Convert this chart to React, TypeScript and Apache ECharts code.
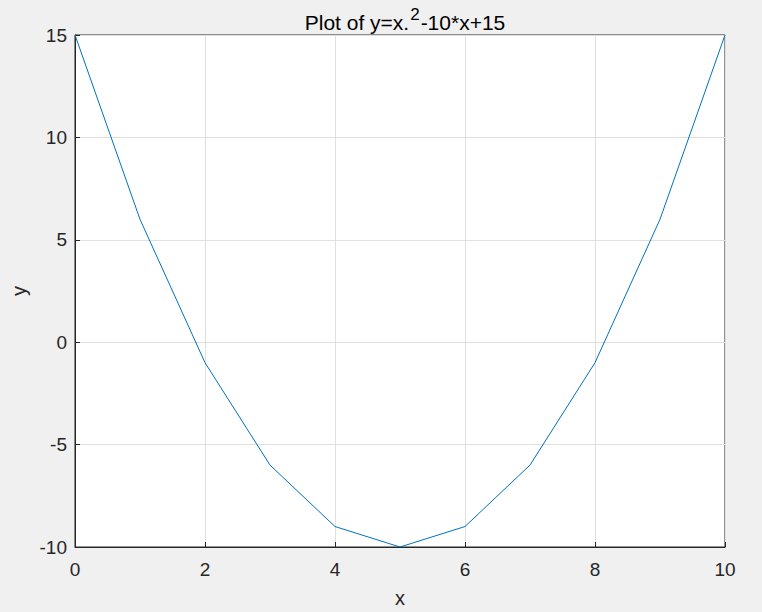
import React, { useEffect, useRef } from "react";
import * as echarts from "echarts";

const xValues = [0, 1, 2, 3, 4, 5, 6, 7, 8, 9, 10];
const yValues = [15, 6, -1, -6, -9, -10, -9, -6, -1, 6, 15];
const titleMain = "Plot of y=x.";
const titleSup = "2";
const titleRest = "-10*x+15";

export default function App() {
  const ref = useRef<HTMLDivElement>(null);
  useEffect(() => {
    document.body.style.margin = "0";
    const chart = echarts.init(ref.current!, null, { renderer: "svg" });
    const font = "Liberation Sans, Arial, Helvetica, sans-serif";
    const textColor = "#262626";
    chart.setOption({
      animation: false,
      backgroundColor: "#f0f0f0",
      textStyle: { fontFamily: font },
      title: {
        text: `{a|${titleMain}}{s|${titleSup}}{a|${titleRest}}`,
        left: 400,
        textAlign: "center",
        top: 1,
        textStyle: {
          fontWeight: "normal",
          rich: {
            a: { fontSize: 21, color: "#000", fontFamily: font, fontWeight: "normal", lineHeight: 27, verticalAlign: "bottom" },
            s: { fontSize: 17, color: "#000", fontFamily: font, fontWeight: "normal", padding: [0, 1, 10, 1], verticalAlign: "bottom" },
          },
        },
      },
      grid: {
        left: 75,
        right: 37,
        top: 35,
        bottom: 65,
        containLabel: false,
        outerBoundsMode: "none",
        show: true,
        backgroundColor: "#ffffff",
        borderColor: textColor,
        borderWidth: 1,
      },
      xAxis: {
        type: "value",
        min: 0,
        max: 10,
        interval: 2,
        name: "x",
        nameLocation: "middle",
        nameGap: 41,
        nameTextStyle: { fontSize: 20, color: textColor, fontFamily: font },
        axisLine: { show: true, onZero: false, lineStyle: { color: textColor, width: 1 } },
        axisTick: { show: true, inside: true, length: 5, lineStyle: { color: textColor } },
        axisLabel: { fontSize: 19, color: textColor, margin: 13, fontFamily: font },
        splitLine: { show: true, lineStyle: { color: "#dfdfdf", width: 1 } },
      },
      yAxis: {
        type: "value",
        min: -10,
        max: 15,
        interval: 5,
        name: "y",
        nameLocation: "middle",
        nameGap: 46,
        nameRotate: 90,
        nameTextStyle: { fontSize: 20, color: textColor, fontFamily: font },
        axisLine: { show: true, onZero: false, lineStyle: { color: textColor, width: 1 } },
        axisTick: { show: true, inside: true, length: 5, lineStyle: { color: textColor } },
        axisLabel: { fontSize: 19, color: textColor, margin: 8, fontFamily: font },
        splitLine: { show: true, lineStyle: { color: "#dfdfdf", width: 1 } },
      },
      series: [
        {
          type: "line",
          data: xValues.map((x, i) => [x, yValues[i]]),
          symbol: "none",
          lineStyle: { color: "#0072bd", width: 1 },
        },
      ],
    });
    return () => chart.dispose();
  }, []);
  return <div ref={ref} style={{ width: 762, height: 612 }} />;
}
